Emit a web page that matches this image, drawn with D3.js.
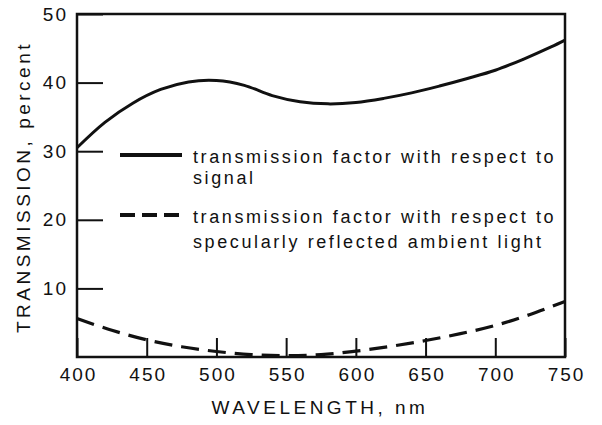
<!DOCTYPE html>
<html>
<head>
<meta charset="utf-8">
<script src="https://cdn.jsdelivr.net/npm/d3@7"></script>
<style>
  body { margin: 0; background: #fff; }
  svg { display: block; }
  text { font-family: "Liberation Sans", Arial, Helvetica, sans-serif; fill: #111; }
  .tick text { font-size: 19px; letter-spacing: 2px; }
  .title { font-size: 19px; letter-spacing: 3.5px; }
  .legend text { font-size: 18px; letter-spacing: 2.6px; }
</style>
</head>
<body>
<div id="chart"></div>
<script>
const width = 602
const height = 425
const margin = { top: 14, right: 37, bottom: 68, left: 77 }

// datos (longitud de onda en nm, transmisión en %)
const wavelengths = [400, 450, 500, 550, 600, 650, 700, 750]
const yTicks = [10, 20, 30, 40, 50]

const signalNm = [400, 420, 440, 460, 480, 500, 520, 540, 560, 580, 600, 620, 640, 660, 680, 700, 720, 740, 750]
const signalPct = [30.5, 34.2, 37.0, 39.0, 40.1, 40.3, 39.6, 38.1, 37.2, 36.9, 37.1, 37.7, 38.5, 39.5, 40.6, 41.8, 43.4, 45.2, 46.2]

const ambientNm = [400, 425, 450, 475, 500, 525, 550, 575, 600, 625, 650, 675, 700, 725, 750]
const ambientPct = [5.6, 3.9, 2.5, 1.5, 0.8, 0.35, 0.2, 0.35, 0.85, 1.55, 2.4, 3.4, 4.6, 6.2, 8.1]

const legendLabels = [
    ["transmission factor with respect to", "signal"],
    ["transmission factor with respect to", "specularly reflected ambient light"]
]

const svg = d3.select("div#chart")
    .append("svg")
    .attr("width", width)
    .attr("height", height)

const innerW = width - margin.left - margin.right
const innerH = height - margin.top - margin.bottom

const x = d3.scaleLinear().domain([400, 750]).range([margin.left, margin.left + innerW])
const y = d3.scaleLinear().domain([0, 50]).range([margin.top + innerH, margin.top])

// marco
svg.append("rect")
    .attr("x", x(400)).attr("y", y(50))
    .attr("width", x(750) - x(400)).attr("height", y(0) - y(50))
    .attr("fill", "none").attr("stroke", "#111").attr("stroke-width", 2.5)

// ejes con marcas hacia dentro
const xAxis = d3.axisBottom(x).tickValues(wavelengths).tickSize(-19).tickPadding(11)
const yAxis = d3.axisLeft(y).tickValues(yTicks).tickSize(-26).tickPadding(9)

const xg = svg.append("g").attr("transform", `translate(0,${y(0)})`).call(xAxis)
const yg = svg.append("g").attr("transform", `translate(${x(400)},0)`).call(yAxis)
xg.select(".domain").remove()
yg.select(".domain").remove()
svg.selectAll(".tick line").attr("stroke", "#111").attr("stroke-width", 2)
svg.selectAll(".tick text").attr("fill", "#111")
xg.selectAll(".tick text").attr("dx", "1px")

// títulos
svg.append("text")
    .attr("class", "title")
    .attr("text-anchor", "middle")
    .attr("x", 320).attr("y", 414)
    .text("WAVELENGTH, nm")

svg.append("text")
    .attr("class", "title")
    .attr("text-anchor", "middle")
    .attr("transform", "translate(30,187) rotate(-90)")
    .text("TRANSMISSION, percent")

// curvas
const line = d3.line()
    .x(d => x(d[0]))
    .y(d => y(d[1]))
    .curve(d3.curveCatmullRom.alpha(0.5))

svg.append("path")
    .datum(d3.zip(signalNm, signalPct))
    .attr("d", line)
    .attr("fill", "none").attr("stroke", "#111").attr("stroke-width", 3)

svg.append("path")
    .datum(d3.zip(ambientNm, ambientPct))
    .attr("d", line)
    .attr("fill", "none").attr("stroke", "#111").attr("stroke-width", 3.2)
    .attr("stroke-dasharray", "18,9")

// leyenda
const legend = svg.append("g").attr("class", "legend")
const rows = [{ y: 155, dash: null }, { y: 215, dash: "15,7" }]

rows.forEach((r, i) => {
    legend.append("line")
        .attr("x1", 120).attr("x2", 182)
        .attr("y1", r.y).attr("y2", r.y)
        .attr("stroke", "#111").attr("stroke-width", 4)
        .attr("stroke-dasharray", r.dash)
    legend.append("text")
        .attr("x", 193).attr("y", r.y + 8)
        .text(legendLabels[i][0])
    legend.append("text")
        .attr("x", 193).attr("y", r.y + (i === 0 ? 29 : 33))
        .text(legendLabels[i][1])
})
</script>
</body>
</html>
